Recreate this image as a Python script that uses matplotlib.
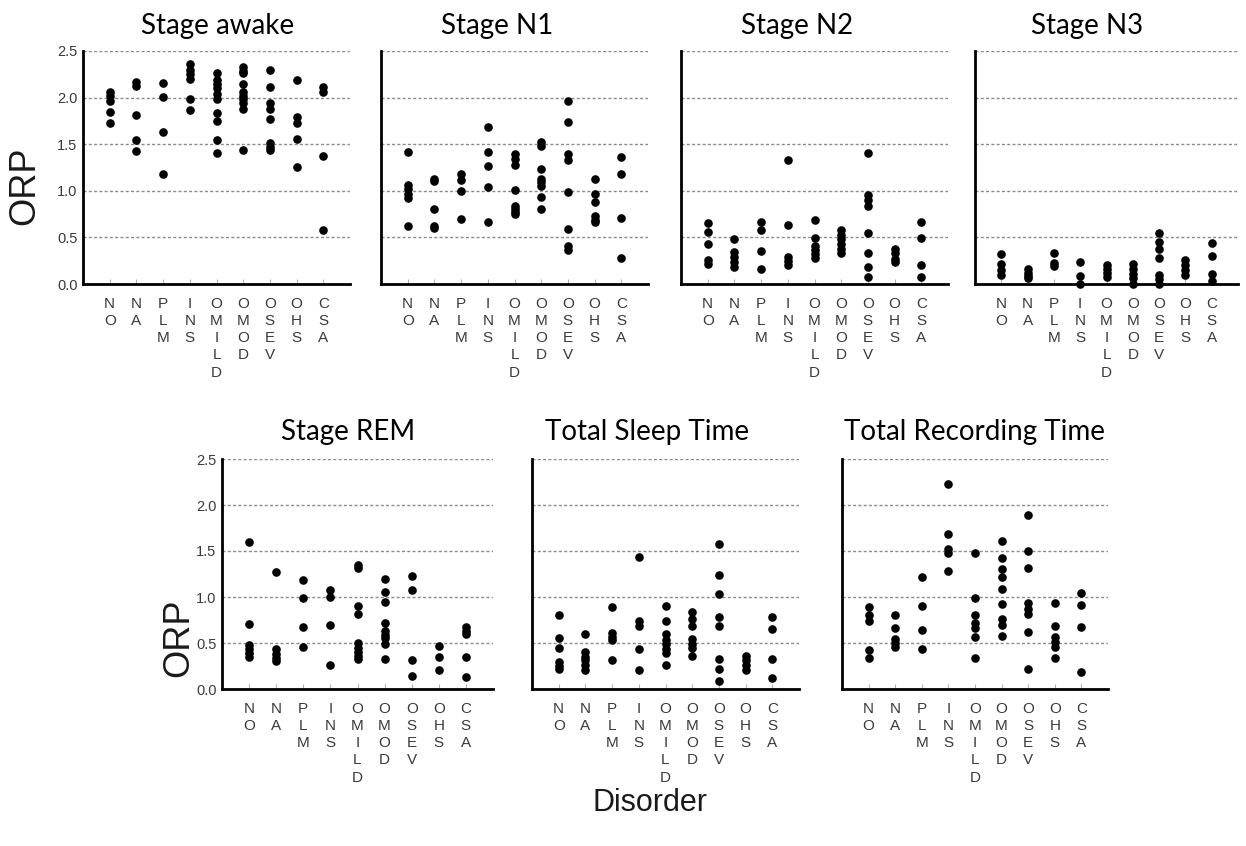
import matplotlib
matplotlib.use("Agg")
import matplotlib.pyplot as plt

categories = ["NO", "NA", "PLM", "INS", "OMILD", "OMOD", "OSEV", "OHS", "CSA"]
tick_labels = ["\n".join(c) for c in categories]
y_ticks = [0.0, 0.5, 1.0, 1.5, 2.0, 2.5]

titles = ["Stage awake", "Stage N1", "Stage N2", "Stage N3",
          "Stage REM", "Total Sleep Time", "Total Recording Time"]

stage_awake = [
    [2.06, 2.02, 1.96, 1.85, 1.73],
    [2.17, 2.12, 1.81, 1.55, 1.43],
    [2.16, 2.01, 1.63, 1.18],
    [2.36, 2.30, 2.25, 2.20, 1.98, 1.87],
    [2.26, 2.19, 2.15, 2.10, 2.04, 1.99, 1.83, 1.75, 1.55, 1.41],
    [2.33, 2.29, 2.26, 2.15, 2.06, 2.02, 1.99, 1.94, 1.88, 1.44],
    [2.30, 2.11, 1.94, 1.88, 1.77, 1.51, 1.47, 1.44],
    [2.19, 1.79, 1.73, 1.56, 1.25],
    [2.11, 2.06, 1.37, 0.58],
]
stage_n1 = [
    [1.42, 1.06, 1.02, 0.97, 0.92, 0.62],
    [1.13, 1.10, 0.80, 0.62, 0.60],
    [1.18, 1.12, 1.00, 0.70],
    [1.68, 1.42, 1.27, 1.04, 0.66],
    [1.39, 1.34, 1.28, 1.01, 0.84, 0.81, 0.77, 0.75],
    [1.52, 1.48, 1.23, 1.13, 1.09, 1.05, 0.93, 0.81],
    [1.96, 1.74, 1.40, 1.33, 0.99, 0.59, 0.41, 0.37],
    [1.13, 0.97, 0.88, 0.73, 0.69, 0.66],
    [1.36, 1.18, 0.71, 0.28],
]
stage_n2 = [
    [0.65, 0.56, 0.43, 0.26, 0.21],
    [0.48, 0.34, 0.29, 0.24, 0.18],
    [0.67, 0.58, 0.35, 0.16],
    [1.33, 0.63, 0.29, 0.25, 0.20],
    [0.69, 0.49, 0.41, 0.36, 0.32, 0.28],
    [0.58, 0.53, 0.48, 0.43, 0.38, 0.33],
    [1.41, 0.95, 0.90, 0.84, 0.55, 0.33, 0.18, 0.08],
    [0.38, 0.33, 0.27, 0.24],
    [0.67, 0.49, 0.20, 0.08],
]
stage_n3 = [
    [0.32, 0.21, 0.15, 0.10],
    [0.16, 0.12, 0.09, 0.06],
    [0.33, 0.23, 0.19],
    [0.24, 0.09, 0.0],
    [0.20, 0.16, 0.12, 0.08],
    [0.21, 0.16, 0.11, 0.06, 0.0],
    [0.55, 0.45, 0.38, 0.28, 0.10, 0.05, 0.0],
    [0.26, 0.20, 0.15, 0.10],
    [0.44, 0.30, 0.11, 0.03],
]
stage_rem = [
    [1.60, 0.71, 0.48, 0.44, 0.39, 0.35],
    [1.27, 0.43, 0.38, 0.34, 0.30],
    [1.19, 0.99, 0.67, 0.46],
    [1.08, 1.00, 0.70, 0.26],
    [1.35, 1.32, 0.90, 0.82, 0.50, 0.45, 0.40, 0.36, 0.33],
    [1.20, 1.05, 0.95, 0.72, 0.63, 0.59, 0.55, 0.49, 0.33],
    [1.23, 1.08, 0.32, 0.14],
    [0.47, 0.35, 0.21],
    [0.67, 0.63, 0.60, 0.35, 0.13],
]
total_sleep = [
    [0.80, 0.55, 0.45, 0.29, 0.25, 0.22],
    [0.60, 0.40, 0.35, 0.31, 0.26, 0.21],
    [0.89, 0.61, 0.57, 0.53, 0.31],
    [1.43, 0.74, 0.68, 0.43, 0.21],
    [0.90, 0.74, 0.60, 0.53, 0.49, 0.43, 0.39, 0.26],
    [0.84, 0.76, 0.68, 0.54, 0.49, 0.45, 0.36],
    [1.58, 1.24, 1.03, 0.78, 0.69, 0.33, 0.22, 0.09],
    [0.36, 0.31, 0.26, 0.21],
    [0.78, 0.65, 0.33, 0.12],
]
total_recording = [
    [0.89, 0.80, 0.74, 0.42, 0.34],
    [0.80, 0.66, 0.54, 0.50, 0.46],
    [1.22, 0.90, 0.64, 0.44],
    [2.23, 1.69, 1.52, 1.48, 1.28],
    [1.48, 0.99, 0.80, 0.72, 0.66, 0.56, 0.34],
    [1.61, 1.42, 1.30, 1.22, 1.09, 0.92, 0.76, 0.70, 0.58],
    [1.89, 1.50, 1.31, 0.93, 0.87, 0.81, 0.62, 0.22],
    [0.93, 0.69, 0.56, 0.51, 0.46, 0.34],
    [1.04, 0.91, 0.67, 0.19],
]
panels = [stage_awake, stage_n1, stage_n2, stage_n3,
          stage_rem, total_sleep, total_recording]

# ---- layout (pixels in a 1246x846 canvas) ----
W, H = 1246, 846
# (left, top, width, height, show_yticklabels, title_center_x, title_center_y)
boxes = [
    (83, 51, 267, 233, True, 218, 26),
    (381, 51, 267, 233, False, 497, 26),
    (681, 51, 267, 233, False, 797, 26),
    (975, 51, 263, 233, False, 1087, 26),
    (222, 459, 271, 230, True, 348, 432),
    (532, 459, 267, 230, False, 647, 432),
    (842, 459, 266, 230, False, 975, 432),
]

fig = plt.figure(figsize=(W / 100, H / 100), dpi=100)
tick_font = "Liberation Sans"

for data, title, (l, t, w, h, show_y, tx, ty) in zip(panels, titles, boxes):
    ax = fig.add_axes([l / W, 1 - (t + h) / H, w / W, h / H])
    for i, vals in enumerate(data):
        ax.plot([i + 1] * len(vals), vals, "o", color="black",
                markersize=6.2, markeredgewidth=0, clip_on=False, zorder=3)
    ax.set_xlim(0, 10)
    ax.set_ylim(0, 2.5)
    ax.set_yticks(y_ticks)
    for yv in y_ticks[1:]:
        ax.axhline(yv, color="#8c8c8c", lw=1.0, ls=(0, (2.2, 1.6)), zorder=1)
    ax.set_xticks(range(1, 10))
    ax.set_xticklabels(tick_labels, fontsize=11, family=tick_font,
                       color="#3a3a3a", linespacing=1.3, va="top")
    ax.tick_params(axis="x", direction="in", length=3.5, width=0.8,
                   color="#b0b0b0", pad=9)
    ax.tick_params(axis="y", length=0, pad=4, labelsize=10.5,
                   labelcolor="#3a3a3a")
    for lab in ax.get_yticklabels():
        lab.set_family(tick_font)
    if not show_y:
        ax.set_yticklabels([])
    for s in ("top", "right"):
        ax.spines[s].set_visible(False)
    for s in ("left", "bottom"):
        ax.spines[s].set_linewidth(2.0)
        ax.spines[s].set_color("black")
    fig.text(tx / W, 1 - ty / H, title, ha="center", va="center",
             fontsize=20, family="Lato", color="black")

fig.text(25 / W, 1 - 186 / H, "ORP", rotation=90, ha="center", va="center",
         fontsize=26, family=tick_font, color="#1a1a1a")
fig.text(179 / W, 1 - 638 / H, "ORP", rotation=90, ha="center", va="center",
         fontsize=26, family=tick_font, color="#1a1a1a")
fig.text(650 / W, 1 - 803 / H, "Disorder", ha="center", va="center",
         fontsize=22, family=tick_font, color="#1a1a1a")

fig.savefig("out.png", dpi=100, facecolor="white")
